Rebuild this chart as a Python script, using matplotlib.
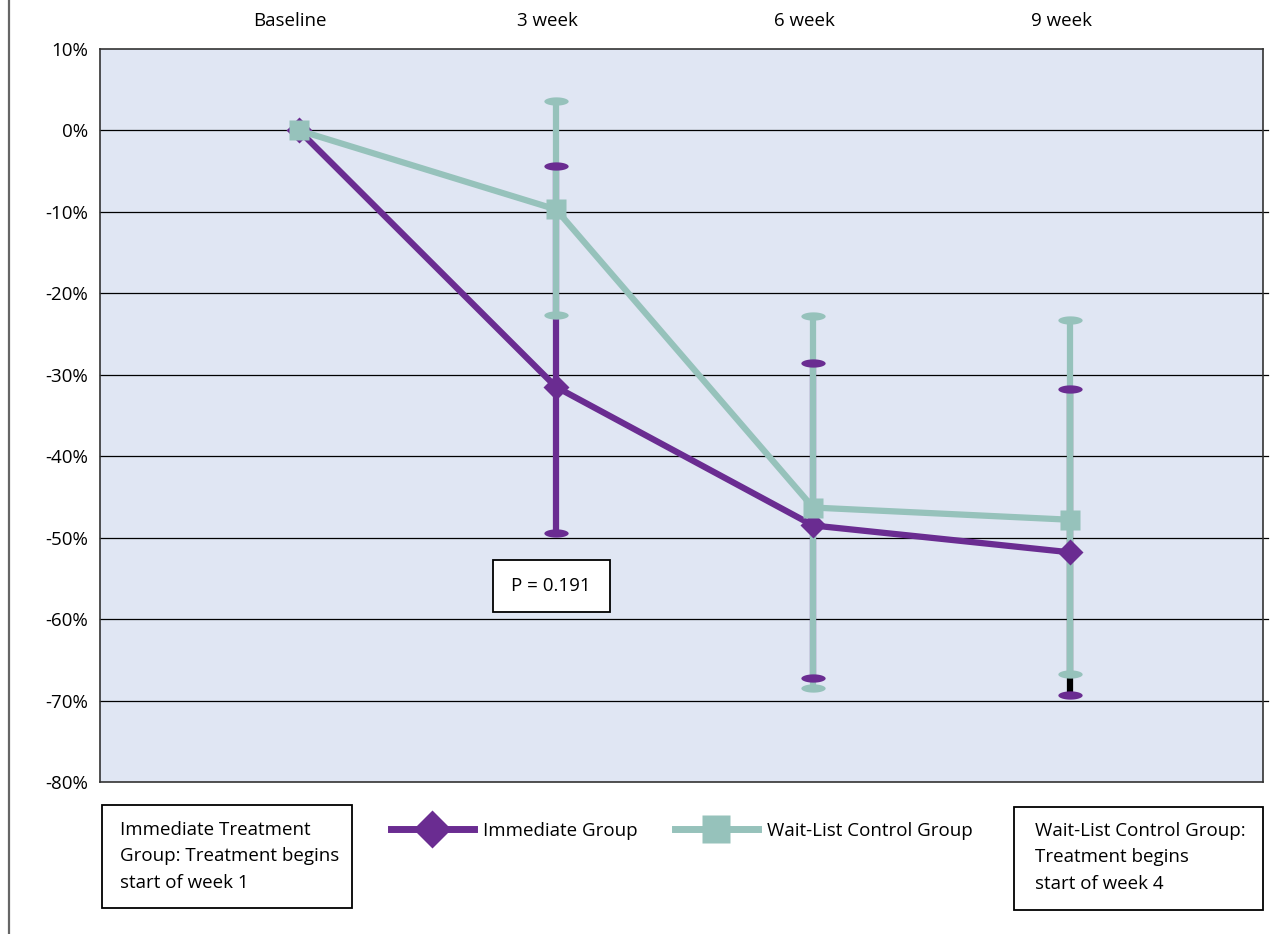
import numpy as np
import matplotlib
matplotlib.use("Agg")
import matplotlib.pyplot as plt
from matplotlib.path import Path
from matplotlib.lines import Line2D
from matplotlib.patches import Rectangle
import matplotlib.transforms as mtrans

plt.rcParams['font.family'] = ['Open Sans', 'DejaVu Sans']

# ---- data (percent change from baseline) ----
timepoints = ["Baseline", "3 week", "6 week", "9 week"]
immediate_mean = [0.0, -31.5, -48.5, -51.8]
immediate_upper = [None, -4.4, -28.6, -31.7]
immediate_lower = [None, -49.4, -67.2, -69.3]
waitlist_mean = [0.0, -9.7, -46.3, -47.8]
waitlist_upper = [None, 3.6, -22.8, -23.3]
waitlist_lower = [None, -22.7, -68.4, -66.8]
y_ticks = [10, 0, -10, -20, -30, -40, -50, -60, -70, -80]
p_value_text = "P = 0.191"

PURPLE = "#6a2c91"
TEAL = "#96c2bb"
BG = "#e0e6f3"
FS = 13.5

W, H = 1278, 934
fig = plt.figure(figsize=(W / 100, H / 100), dpi=100)

left, right, top, bottom = 100, 1263, 49, 782
ax = fig.add_axes([left / W, 1 - bottom / H, (right - left) / W, (bottom - top) / H])
ax.set_facecolor(BG)

x = np.arange(len(timepoints))
ax.set_xlim(-0.774, 3.75)
ax.set_ylim(-80, 10)

# horizontal grid lines
for yv in y_ticks[1:-1]:
    ax.plot([0, 1.004], [yv, yv], transform=ax.get_yaxis_transform(),
            color="black", lw=0.9, zorder=1, clip_on=False)

# elliptical cap marker
t = np.linspace(0, 2 * np.pi, 60)
cap = Path(np.column_stack([np.cos(t), 0.34 * np.sin(t)]), closed=True)

xe = x[1:]
imm_lo, imm_hi = immediate_lower[1:], immediate_upper[1:]
wl_lo, wl_hi = waitlist_lower[1:], waitlist_upper[1:]

bar_colors = [PURPLE, PURPLE, "black"]
ax.vlines(xe, imm_lo, imm_hi, colors=bar_colors, lw=4.5, zorder=2)
ax.vlines(xe, wl_lo, wl_hi, colors=TEAL, lw=4.5, zorder=3)

for vals, col in ((imm_lo, PURPLE), (imm_hi, PURPLE), (wl_lo, TEAL), (wl_hi, TEAL)):
    ax.plot(xe, vals, linestyle="none", marker=cap, ms=17.5,
            mfc=col, mec="none", zorder=4)

ax.plot(x, immediate_mean, color=PURPLE, lw=4.5, marker="D", ms=13.5,
        mfc=PURPLE, mec="none", zorder=5)
ax.plot(x, waitlist_mean, color=TEAL, lw=4.5, marker="s", ms=15,
        mfc=TEAL, mec="none", zorder=6)

# axes styling
ax.set_yticks(y_ticks)
ax.set_yticklabels([f"{v}%" for v in y_ticks])
ax.tick_params(axis="y", length=0, pad=8.5, labelsize=FS)
ax.set_xticks([])
for s in ax.spines.values():
    s.set_color("#333333")
    s.set_linewidth(1.2)

# category labels along the top
off = mtrans.ScaledTranslation(-9 / 100, 0, fig.dpi_scale_trans)
for xi, lab in zip(x, timepoints):
    ax.text(xi, 1 + 28 / (bottom - top), lab,
            transform=ax.get_xaxis_transform() + off,
            ha="center", va="center", fontsize=FS)

# p-value box
ax.add_patch(Rectangle((493 / W, 1 - 612 / H), 117 / W, 52 / H,
                       transform=fig.transFigure, facecolor="white",
                       edgecolor="black", lw=1.3, zorder=7, clip_on=False))
ax.text(551 / W, 1 - 586 / H, p_value_text, transform=fig.transFigure,
        ha="center", va="center", fontsize=FS, zorder=8)

# notes below the plot
def note_box(x0, y0, x1, y1, tx, ty, text):
    fig.patches.append(Rectangle((x0 / W, 1 - y1 / H), (x1 - x0) / W, (y1 - y0) / H,
                                 transform=fig.transFigure, facecolor="white",
                                 edgecolor="black", lw=1.3))
    fig.text(tx / W, 1 - ty / H, text, ha="left", va="top",
             fontsize=FS, linespacing=1.6)

note_box(102, 805, 352, 908, 120, 821,
         "Immediate Treatment\nGroup: Treatment begins\nstart of week 1")
note_box(1014, 807, 1263, 910, 1035, 822,
         "Wait-List Control Group:\nTreatment begins\nstart of week 4")

# legend
handles = [
    Line2D([], [], color=PURPLE, lw=5, marker="D", ms=19, mfc=PURPLE, mec="none"),
    Line2D([], [], color=TEAL, lw=5, marker="s", ms=20, mfc=TEAL, mec="none"),
]
fig.legend(handles, ["Immediate Group", "Wait-List Control Group"],
           loc="center", bbox_to_anchor=(682 / W, 1 - 831 / H), ncol=2,
           frameon=False, fontsize=FS, handlelength=4.4, handletextpad=0.5,
           columnspacing=2.0)

# left border line
fig.add_artist(Line2D([9 / W, 9 / W], [0, 1], transform=fig.transFigure,
                      color="#666666", lw=1.6))

fig.savefig("out.png", dpi=100)
